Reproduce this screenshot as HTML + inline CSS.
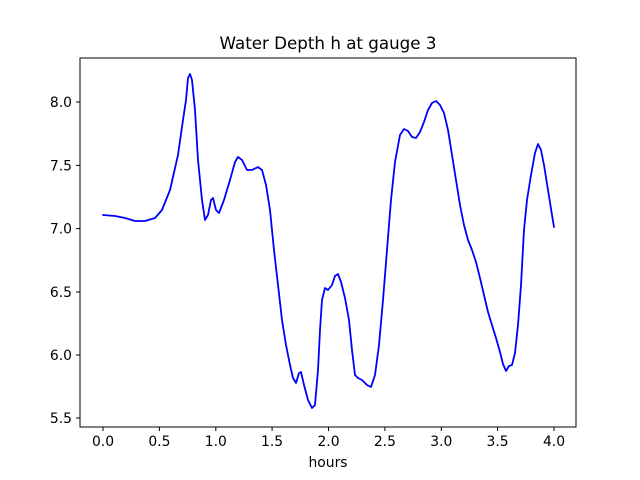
<!DOCTYPE html>
<html><head><meta charset="utf-8"><style>body{margin:0;background:#fff}svg{display:block}text{font-family:"DejaVu Sans","Liberation Sans",sans-serif;font-size:13.9px;fill:#000}</style></head>
<body>
<svg width="640" height="480" viewBox="0 0 640 480">
<rect width="640" height="480" fill="#fff"/>
<text x="328" y="49" text-anchor="middle" style="font-size:16.7px">Water Depth h at gauge 3</text>
<polyline fill="none" stroke="#0000ff" stroke-width="1.8" stroke-linejoin="round" stroke-linecap="round" points="103,215 115,216 125,218 135,221 145,221 155,218 162,210 170,190 178,155 183,120 186,100 188,78 190,74 192,80 195,110 198,160 202,200 205,220 208,215 211,200 213,198 216,210 219,213 224,200 230,180 235,162 238,157 242,160 247,170 252,170 258,167 262,170 266,185 270,210 274,250 278,285 282,320 286,345 290,365 293,378 296,383 299,373 301,372 304,385 308,400 312,408 315,405 318,370 320,330 322,300 325,288 328,290 332,285 335,276 338,274 341,282 345,298 349,320 352,350 355,375 358,378 362,380 367,385 371,387 375,375 379,345 383,300 387,250 391,200 395,162 400,135 404,129 408,131 412,137 416,138 420,132 424,122 428,110 432,103 436,101 440,105 444,113 448,130 452,155 456,180 460,205 464,225 468,240 472,250 476,262 480,278 484,295 488,312 492,325 496,338 500,352 503,364 506,371 509,366 512,365 515,353 518,325 521,285 524,230 527,200 531,175 535,153 538,144 541,150 544,165 548,190 552,215 554,227"/>
<rect x="80" y="58" width="496" height="369" fill="none" stroke="#000" stroke-width="1"/>
<g stroke="#000" stroke-width="1">
<line x1="103" y1="427" x2="103" y2="431"/><line x1="159.4" y1="427" x2="159.4" y2="431"/><line x1="215.8" y1="427" x2="215.8" y2="431"/><line x1="272.1" y1="427" x2="272.1" y2="431"/><line x1="328.5" y1="427" x2="328.5" y2="431"/><line x1="384.9" y1="427" x2="384.9" y2="431"/><line x1="441.3" y1="427" x2="441.3" y2="431"/><line x1="497.6" y1="427" x2="497.6" y2="431"/><line x1="554" y1="427" x2="554" y2="431"/>
<line x1="76" y1="418" x2="80" y2="418"/><line x1="76" y1="355" x2="80" y2="355"/><line x1="76" y1="292" x2="80" y2="292"/><line x1="76" y1="228.6" x2="80" y2="228.6"/><line x1="76" y1="165.4" x2="80" y2="165.4"/><line x1="76" y1="102" x2="80" y2="102"/>
</g>
<g text-anchor="middle">
<text x="103" y="446">0.0</text><text x="159.4" y="446">0.5</text><text x="215.8" y="446">1.0</text><text x="272.1" y="446">1.5</text><text x="328.5" y="446">2.0</text><text x="384.9" y="446">2.5</text><text x="441.3" y="446">3.0</text><text x="497.6" y="446">3.5</text><text x="554" y="446">4.0</text>
<text x="328" y="467">hours</text>
</g>
<g text-anchor="end">
<text x="72" y="423">5.5</text><text x="72" y="360">6.0</text><text x="72" y="297">6.5</text><text x="72" y="233.6">7.0</text><text x="72" y="170.4">7.5</text><text x="72" y="107">8.0</text>
</g>
</svg>
</body></html>
